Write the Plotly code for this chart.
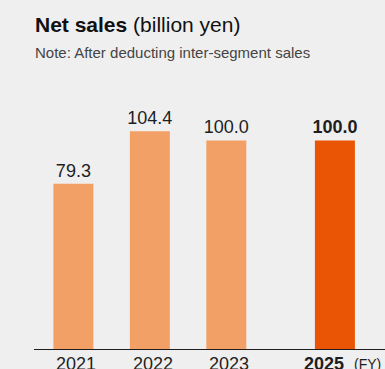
import plotly.graph_objects as go

# Fiscal-year net sales, billion yen
years = ["2021", "2022", "2023", "2025"]
net_sales = [79.3, 104.4, 100.0, 100.0]
is_forecast = [False, False, False, True]

# Slot positions along the x axis (2025 set apart from the actual years)
slots = [0, 1, 2, 3.42]

FONT = "Liberation Sans, Arial, Helvetica, sans-serif"
BG = "#efefef"
LIGHT = "#f3a066"
DARK = "#e95504"
INK = "#1e1e1e"

colors = [DARK if f else LIGHT for f in is_forecast]
value_text = [f"<b>{v:.1f}</b>" if f else f"{v:.1f}" for v, f in zip(net_sales, is_forecast)]

fig = go.Figure(
    go.Bar(
        x=slots,
        y=net_sales,
        width=0.523,
        marker=dict(color=colors, line=dict(width=0)),
        text=value_text,
        textposition="outside",
        textfont=dict(family=FONT, size=18, color=INK),
        constraintext="none",
        cliponaxis=False,
        hoverinfo="skip",
    )
)

annotations = [
    dict(
        text="<b>Net sales</b> (billion yen)",
        xref="paper", yref="paper", x=0, y=1,
        xanchor="left", yanchor="bottom", yshift=62, xshift=-1,
        showarrow=False, font=dict(family=FONT, size=21, color="#111"),
    ),
    dict(
        text="Note: After deducting inter-segment sales",
        xref="paper", yref="paper", x=0, y=1,
        xanchor="left", yanchor="bottom", yshift=37, xshift=-1,
        showarrow=False, font=dict(family=FONT, size=15, color="#444"),
    ),
]

# Year labels under the axis
for s, yr, f in zip(slots, years, is_forecast):
    annotations.append(
        dict(
            text=f"<b>{yr}</b>" if f else yr,
            xref="x", yref="paper", x=s, y=0,
            xanchor="center", yanchor="top", yshift=-3,
            xshift=-11 if f else 3,
            showarrow=False, font=dict(family=FONT, size=18, color=INK),
        )
    )
annotations.append(
    dict(
        text="(FY)",
        xref="paper", yref="paper", x=1, y=0,
        xanchor="right", yanchor="top", yshift=-5, xshift=-2,
        showarrow=False, font=dict(family=FONT, size=14, color=INK),
    )
)

fig.update_layout(
    width=385,
    height=369,
    margin=dict(l=34, r=0, t=100, b=20),
    paper_bgcolor=BG,
    plot_bgcolor=BG,
    showlegend=False,
    annotations=annotations,
    xaxis=dict(
        range=[-0.515, 4.075],
        showgrid=False,
        zeroline=False,
        showticklabels=False,
        ticks="",
        showline=True,
        linecolor=INK,
        linewidth=1,
        fixedrange=True,
    ),
    yaxis=dict(
        range=[0, 119.4],
        visible=False,
        fixedrange=True,
    ),
)

fig.write_html("out.html", config={"displayModeBar": False})
